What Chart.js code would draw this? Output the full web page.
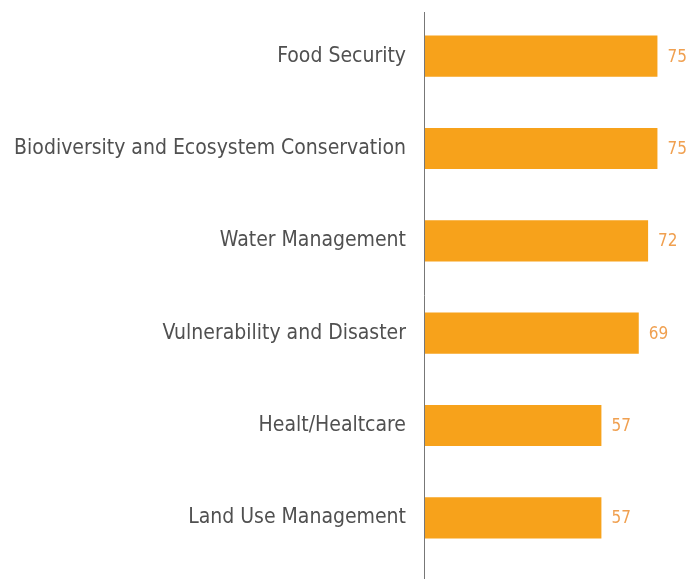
<!DOCTYPE html>
<html>
<head>
<meta charset="utf-8">
<script src="https://cdn.jsdelivr.net/npm/chart.js@4"></script>
<style>
  html, body { margin: 0; padding: 0; background: #fff; }
  #wrap { width: 693px; height: 579px; }
</style>
</head>
<body>
<div id="wrap"><canvas id="myChart"></canvas></div>
<script>
const categories = [
  "Food Security",
  "Biodiversity and Ecosystem Conservation",
  "Water Management",
  "Vulnerability and Disaster",
  "Healt/Healtcare",
  "Land Use Management",
];
const scores = [75, 75, 72, 69, 57, 57];

const barColor = "#f7a21b";
const valueColor = "#f0a050";
const labelFont = "'Liberation Sans Narrow', 'DejaVu Sans Condensed', sans-serif";

// value labels at the end of each bar
const valueLabels = {
  id: "valueLabels",
  afterDatasetsDraw(chart) {
    const ctx = chart.ctx;
    const meta = chart.getDatasetMeta(0);
    ctx.save();
    ctx.font = "17px " + labelFont;
    ctx.fillStyle = valueColor;
    ctx.textBaseline = "middle";
    meta.data.forEach((bar, i) => {
      ctx.fillText(scores[i], bar.x + 10, bar.y + 1);
    });
    ctx.restore();
  },
};

// vertical axis line running the full height
const axisLine = {
  id: "axisLine",
  afterDraw(chart) {
    const ctx = chart.ctx;
    const x = chart.scales.x.getPixelForValue(0);
    ctx.save();
    ctx.strokeStyle = "#777";
    ctx.lineWidth = 1;
    ctx.beginPath();
    ctx.moveTo(x + 0.5, 12);
    ctx.lineTo(x + 0.5, 579);
    ctx.stroke();
    ctx.restore();
  },
};

const ctx = document.getElementById("myChart");

new Chart(ctx, {
  type: "bar",
  data: {
    labels: categories,
    datasets: [
      {
        data: scores,
        backgroundColor: barColor,
        borderWidth: 0,
        barPercentage: 0.445,
        categoryPercentage: 1,
      },
    ],
  },
  options: {
    indexAxis: "y",
    responsive: true,
    maintainAspectRatio: false,
    animation: false,
    layout: {
      padding: { top: 10, bottom: 15, left: 0, right: 20 },
    },
    plugins: {
      legend: { display: false },
      tooltip: { enabled: false },
    },
    scales: {
      x: {
        display: false,
        min: 0,
        max: 80,
      },
      y: {
        afterFit(scale) {
          scale.width = 424;
          scale.paddingTop = 0;
          scale.paddingBottom = 0;
        },
        grid: { display: false, drawTicks: false },
        border: { display: false },
        ticks: {
          color: "#505050",
          padding: 18,
          font: { family: labelFont, size: 21 },
        },
      },
    },
  },
  plugins: [valueLabels, axisLine],
});
</script>
</body>
</html>
